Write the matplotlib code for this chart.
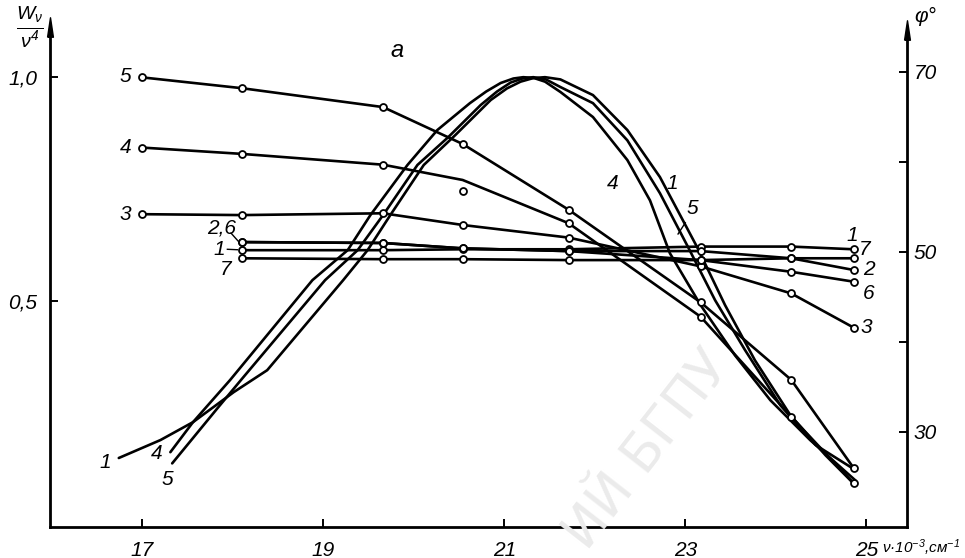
"""Spectral curves: W/nu^4 (bell curves) and phi (curves with circles)."""

import matplotlib
matplotlib.use("Agg")
import matplotlib.pyplot as plt

plt.rcParams["font.family"] = ["Liberation Sans", "DejaVu Sans"]
plt.rcParams["font.style"] = "italic"
plt.rcParams["mathtext.fontset"] = "custom"
plt.rcParams["mathtext.rm"] = "Liberation Sans"
plt.rcParams["mathtext.it"] = "Liberation Sans:italic"

# --- data ----------------------------------------------------------------
# W_nu / nu^4 curves (left axis), nu in 10^3 cm^-1
b1_nu = [16.74, 17.20, 17.56, 18.01, 18.38, 19.22, 19.49, 19.74, 20.11, 20.46,
         20.85, 21.03, 21.18, 21.32, 21.45, 21.62, 21.98, 22.36, 22.72, 23.13,
         23.44, 23.77, 24.16, 24.55, 24.88]
b1_w = [0.150, 0.190, 0.230, 0.297, 0.346, 0.547, 0.614, 0.692, 0.804, 0.871,
        0.949, 0.975, 0.990, 0.998, 1.000, 0.995, 0.960, 0.882, 0.777, 0.621,
        0.491, 0.368, 0.246, 0.156, 0.089]

b4_nu = [17.31, 17.56, 17.97, 18.88, 19.27, 19.52, 19.93, 20.26, 20.62, 20.80,
         20.96, 21.10, 21.21, 21.33, 21.45, 21.62, 21.98, 22.36, 22.61, 22.83,
         23.17, 23.55, 23.94, 24.38, 24.88]
b4_w = [0.163, 0.230, 0.324, 0.547, 0.614, 0.692, 0.804, 0.882, 0.942, 0.968,
        0.987, 0.997, 1.000, 0.998, 0.990, 0.967, 0.911, 0.815, 0.725, 0.607,
        0.491, 0.379, 0.279, 0.190, 0.100]

b5_nu = [17.33, 17.83, 18.09, 19.02, 19.38, 19.66, 20.04, 20.38, 20.74, 20.92,
         21.07, 21.20, 21.32, 21.46, 21.62, 21.98, 22.36, 22.72, 23.03, 23.33,
         23.66, 24.05, 24.44, 24.88]
b5_w = [0.138, 0.261, 0.324, 0.547, 0.614, 0.692, 0.804, 0.866, 0.938, 0.968,
        0.988, 0.997, 1.000, 0.995, 0.978, 0.942, 0.859, 0.741, 0.621, 0.502,
        0.391, 0.268, 0.179, 0.123]

# phi curves (right axis), measured points
nu_pts = [17.0, 18.10, 19.66, 20.54, 21.71, 23.17, 24.17, 24.86]
phi5 = [69.4, 68.2, 66.1, 62.0, 54.7, 44.4, 35.8, 26.0]
phi4 = [61.6, 60.9, 59.7, 56.8, 53.2, 42.8, 31.7, 24.3]
phi4_line = [61.6, 60.9, 59.7, 58.0, 53.2, 42.8, 31.7, 24.3]
phi3 = [54.2, 54.1, 54.3, 53.0, 51.6, 48.4, 45.4, 41.6]
phi1 = [50.2, 50.2, 50.3, 50.3, 50.6, 50.6, 50.3]
phi2 = [51.1, 51.0, 50.4, 50.1, 50.1, 49.3, 48.0]
phi6 = [51.1, 51.0, 50.4, 50.1, 49.1, 47.8, 46.7]
phi7 = [49.3, 49.2, 49.2, 49.1, 49.1, 49.3, 49.3]

x_ticks = [17, 19, 21, 23, 25]
w_ticks = [0.5, 1.0]
w_tick_labels = ["0,5", "1,0"]
phi_ticks = [30, 40, 50, 60, 70]
phi_tick_labels = ["30", "", "50", "", "70"]

W, H = 965, 558
LW = 1.9
FS = 15

fig = plt.figure(figsize=(W / 100, H / 100), dpi=100)
ax = fig.add_axes([50 / W, 1 - 527 / H, 857 / W, 500 / H])
ax2 = ax.twinx()

ax.set_xlim(15.98, 25.45)
ax.set_ylim(-0.004, 1.112)
ax2.set_ylim(19.44, 75.0)

# faint watermark of the scan
fig.text(648 / W, 1 - 450 / H, "ИЙ БГПУ", rotation=52, fontsize=38,
         color="#ebebeb", ha="center", va="center", family="DejaVu Sans",
         style="normal", zorder=0)

for nu, w in [(b1_nu, b1_w), (b4_nu, b4_w), (b5_nu, b5_w)]:
    ax.plot(nu, w, color="k", lw=LW, solid_capstyle="round",
            solid_joinstyle="round")

mk = dict(marker="o", ms=5, mfc="white", mec="k", mew=1.3, ls="none", zorder=4)
for phi in [phi5, phi3]:
    ax2.plot(nu_pts, phi, color="k", lw=LW, solid_joinstyle="round")
    ax2.plot(nu_pts, phi, **mk)
ax2.plot(nu_pts, phi4_line, color="k", lw=LW, solid_joinstyle="round")
ax2.plot(nu_pts, phi4, **mk)
for phi in [phi1, phi2, phi6, phi7]:
    ax2.plot(nu_pts[1:], phi, color="k", lw=LW)
    ax2.plot(nu_pts[1:], phi, **mk)

# spines
for a in (ax, ax2):
    a.spines["top"].set_visible(False)
    for s in a.spines.values():
        s.set_linewidth(2.0)
ax.spines["right"].set_visible(False)
ax2.spines["left"].set_visible(False)
ax2.spines["bottom"].set_visible(False)

arrow = [(-0.3, -1.0), (0.0, 1.0), (0.3, -1.0), (-0.3, -1.0)]
ax.plot([0], [1.0], marker=arrow, ms=14, color="k", transform=ax.transAxes,
        clip_on=False)
ax.plot([1], [0.995], marker=arrow, ms=14, color="k", transform=ax.transAxes,
        clip_on=False)

ax.set_xticks(x_ticks)
ax.set_xticklabels([str(t) for t in x_ticks])
ax.set_yticks(w_ticks)
ax.set_yticklabels(w_tick_labels)
ax2.set_yticks(phi_ticks)
ax2.set_yticklabels(phi_tick_labels)
ax.tick_params(direction="in", length=6, width=1.4, labelsize=FS, pad=10)
ax.tick_params(axis="y", pad=9)
ax2.tick_params(direction="in", length=6, width=1.4, labelsize=FS, pad=5)

# axis titles
fig.text(30 / W, 1 - 27 / H, r"$\frac{W_\nu}{\nu^4}$", fontsize=20,
         ha="center", va="center")
fig.text(914 / W, 1 - 16 / H, "φ°", fontsize=FS, ha="left", va="center")
fig.text(882 / W, 1 - 548 / H, r"ν·10$^{-3}$,см$^{-1}$", fontsize=11,
         ha="left", va="center")
ax.text(19.82, 1.06, "a", fontsize=17, ha="center", va="center")

# labels of phi curves
for txt, x, y in [("5", 16.88, 69.5), ("4", 16.88, 61.6), ("3", 16.88, 54.2)]:
    ax2.text(x, y, txt, fontsize=FS, ha="right", va="center")
ax2.text(17.88, 52.7, "2,6", fontsize=FS, ha="center", va="center")
ax2.text(17.92, 50.3, "1", fontsize=FS, ha="right", va="center")
ax2.text(17.98, 48.0, "7", fontsize=FS, ha="right", va="center")
ax2.plot([17.98, 18.06], [52.1, 51.2], color="k", lw=1.0)
ax2.plot([17.94, 18.05], [50.3, 50.25], color="k", lw=1.0)
ax2.text(24.84, 51.8, "1", fontsize=FS, ha="center", va="center")
ax2.text(24.92, 50.3, "7", fontsize=FS, ha="left", va="center")
ax2.text(24.96, 48.0, "2", fontsize=FS, ha="left", va="center")
ax2.text(24.96, 45.4, "6", fontsize=FS, ha="left", va="center")
ax2.text(24.94, 41.6, "3", fontsize=FS, ha="left", va="center")

# labels of bell curves
ax.text(16.59, 0.141, "1", fontsize=FS, ha="center", va="center")
ax.text(17.16, 0.160, "4", fontsize=FS, ha="center", va="center")
ax.text(17.28, 0.103, "5", fontsize=FS, ha="center", va="center")
ax.text(22.20, 0.763, "4", fontsize=FS, ha="center", va="center")
ax.text(22.86, 0.763, "1", fontsize=FS, ha="center", va="center")
ax.text(23.08, 0.708, "5", fontsize=FS, ha="center", va="center")
ax.plot([23.00, 22.92], [0.675, 0.650], color="k", lw=1.0)

fig.savefig("out.png", dpi=100, facecolor="white")
